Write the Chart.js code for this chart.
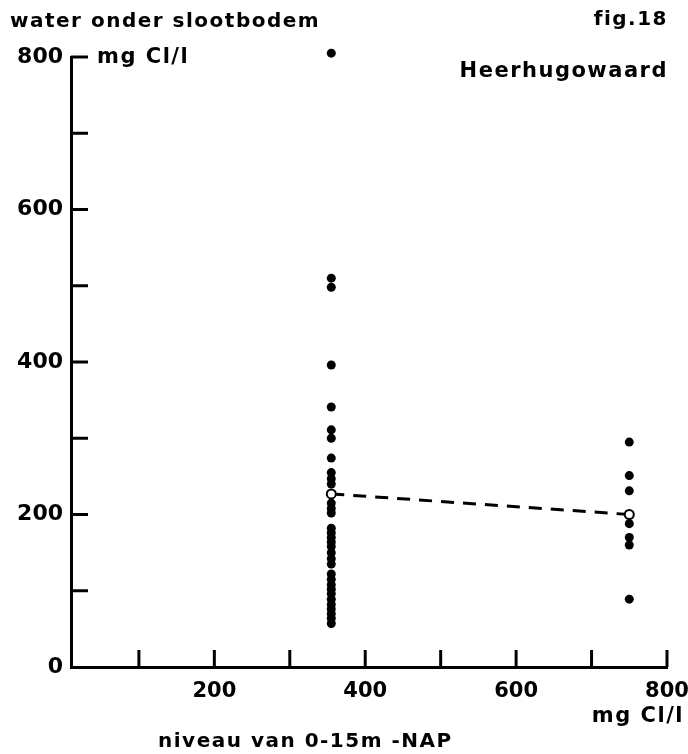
<!DOCTYPE html>
<html>
<head>
<meta charset="utf-8">
<script src="https://cdn.jsdelivr.net/npm/chart.js@4.4.1/dist/chart.umd.min.js"></script>
<style>
  html, body { margin: 0; padding: 0; background: #fff; }
  canvas { display: block; }
</style>
</head>
<body>
<canvas id="chloride" width="688" height="754"></canvas>
<script>
// chloride under the ditch bed (y) against chloride at 0-15 m -NAP (x), Heerhugowaard
const columnLeftX = 355;
const columnRightX = 750;
const chlorideLeft = [805, 510, 498, 396, 341, 311, 300, 274, 255, 247, 240, 215, 208, 202, 182, 176, 170, 164, 158, 150, 142, 135, 122, 115, 108, 102, 96, 89, 82, 76, 70, 64, 57];
const chlorideRight = [295, 251, 231, 188, 170, 160, 89];
const meanX = [355, 750];
const meanY = [227, 200];

const xTicks = [100, 200, 300, 400, 500, 600, 700, 800];
const xLabels = [200, 400, 600, 800];
const yTicks = [0, 100, 200, 300, 400, 500, 600, 700, 800];
const yLabels = [0, 200, 400, 600, 800];

const FONT = "'DejaVu Sans', sans-serif";

// tick marks point into the plot, not outward
const inwardTicks = {
    id: 'inwardTicks',
    afterDraw(chart) {
        const { ctx, chartArea, scales } = chart;
        ctx.save();
        ctx.strokeStyle = '#000';
        ctx.lineWidth = 3;
        ctx.lineCap = 'butt';
        yTicks.filter(v => v > 0).forEach(v => {
            const py = scales.y.getPixelForValue(v);
            ctx.beginPath();
            ctx.moveTo(chartArea.left, py);
            ctx.lineTo(chartArea.left + 17, py);
            ctx.stroke();
        });
        xTicks.forEach(v => {
            const px = scales.x.getPixelForValue(v);
            ctx.beginPath();
            ctx.moveTo(px, chartArea.bottom);
            ctx.lineTo(px, chartArea.bottom - 17);
            ctx.stroke();
        });
        ctx.restore();
    }
};

// headings, units and axis captions
const captions = {
    id: 'captions',
    afterDraw(chart) {
        const { ctx } = chart;
        const put = (text, x, y, align, size) => {
            ctx.font = `bold ${size}px ${FONT}`;
            ctx.textAlign = align;
            ctx.textBaseline = 'middle';
            ctx.fillText(text, x, y);
        };
        ctx.save();
        ctx.fillStyle = '#000';
        ctx.letterSpacing = '1.5px';
        put('water onder slootbodem', 10, 22, 'left', 20);
        put('fig.18', 668, 20, 'right', 20);
        put('mg Cl/l', 97, 58, 'left', 21);
        put('Heerhugowaard', 668, 72, 'right', 21);
        put('mg Cl/l', 684, 717, 'right', 21);
        put('niveau van 0-15m -NAP', 158, 742, 'left', 20);
        ctx.restore();
    }
};

new Chart(document.getElementById('chloride'), {
    type: 'scatter',
    data: {
        datasets: [
            {
                label: 'gemiddelde',
                data: meanX.map((x, i) => ({ x, y: meanY[i] })),
                showLine: true,
                clip: false,
                borderColor: '#000',
                borderWidth: 3,
                borderDash: [13, 9],
                pointRadius: 4.5,
                pointBackgroundColor: '#fff',
                pointBorderColor: '#000',
                pointBorderWidth: 2
            },
            {
                label: 'links',
                data: chlorideLeft.map(y => ({ x: columnLeftX, y })),
                clip: false,
                pointRadius: 4.5,
                pointBackgroundColor: '#000',
                pointBorderWidth: 0
            },
            {
                label: 'rechts',
                data: chlorideRight.map(y => ({ x: columnRightX, y })),
                clip: false,
                pointRadius: 4.5,
                pointBackgroundColor: '#000',
                pointBorderWidth: 0
            }
        ]
    },
    options: {
        responsive: false,
        animation: false,
        layout: { padding: { top: 57, right: 21, left: 0, bottom: 0 } },
        plugins: {
            legend: { display: false },
            tooltip: { enabled: false }
        },
        scales: {
            x: {
                type: 'linear',
                min: 10,
                max: 800,
                afterBuildTicks: scale => { scale.ticks = xTicks.map(value => ({ value })); },
                afterFit: scale => {
                    scale.height = 87;
                    scale.paddingLeft = 0;
                    scale.paddingRight = 0;
                },
                grid: { drawOnChartArea: false, drawTicks: false },
                border: { color: '#000', width: 3 },
                ticks: {
                    autoSkip: false,
                    maxRotation: 0,
                    padding: 12,
                    color: '#000',
                    font: { family: FONT, size: 21, weight: 'bold' },
                    callback: v => xLabels.includes(v) ? String(v) : ''
                }
            },
            y: {
                type: 'linear',
                min: 0,
                max: 800,
                afterBuildTicks: scale => { scale.ticks = yTicks.map(value => ({ value })); },
                afterFit: scale => { scale.width = 71; },
                grid: { drawOnChartArea: false, drawTicks: false },
                border: { color: '#000', width: 3 },
                ticks: {
                    autoSkip: false,
                    padding: 8,
                    color: '#000',
                    font: { family: FONT, size: 22, weight: 'bold' },
                    callback: v => yLabels.includes(v) ? String(v) : ''
                }
            }
        }
    },
    plugins: [inwardTicks, captions]
});
</script>
</body>
</html>
